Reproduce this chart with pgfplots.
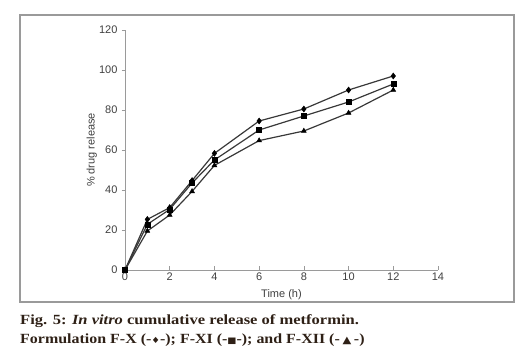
\documentclass[border=0pt]{standalone}
\usepackage{fontspec}
\setmainfont{Liberation Serif}
\newfontfamily\arial{Liberation Sans}
\newfontfamily\dejavu{DejaVu Sans}
\usepackage{pgfplots}
\pgfplotsset{compat=1.18}
\definecolor{capcol}{HTML}{2E2016}
\definecolor{axgray}{HTML}{9A9A9A}
\definecolor{txtgray}{HTML}{404040}
\definecolor{linegray}{HTML}{383838}
\begin{document}
\begin{tikzpicture}[x=1pt,y=1pt]
\useasboundingbox (0,0) rectangle (520,358);
\draw[axgray, line width=1.2pt] (20,56) rectangle (514,343);
\begin{axis}[
  at={(125pt,88pt)}, anchor=south west,
  width=313pt, height=240pt, scale only axis,
  xmin=0, xmax=14, ymin=0, ymax=120,
  axis lines=left, axis line style={axgray, line width=0.8pt, -},
  xtick={0,2,...,14}, ytick={0,20,...,120},
  xtick align=inside, ytick align=outside,
  major tick length=3.5pt,
  tick style={axgray, line width=0.7pt},
  tick label style={font=\arial\fontsize{11}{12}\selectfont, text=txtgray},
  /pgf/number format/assume math mode=true,
  xticklabel style={yshift=1pt},
  yticklabel style={xshift=-0.5pt},
  xlabel={Time (h)}, ylabel={\% drug release},
  every axis x label/.style={at={(axis description cs:0.5,0)}, yshift=-25pt, anchor=center, font=\arial\fontsize{11}{12}\selectfont, text=txtgray},
  every axis y label/.style={at={(axis description cs:-0.106,0.5)}, rotate=90, anchor=center, font=\arial\fontsize{11}{12}\selectfont, text=txtgray},
  clip=false,
]
\addplot[linegray, line width=1.2pt, mark=diamond*, mark size=3pt, mark options={fill=black, draw=black, line width=0.5pt}] coordinates {
(0,0) (1,25.3) (2,31.2) (3,44.7) (4,58.3) (6,74.5) (8,80.5) (10,90) (12,97)};
\addplot[linegray, line width=1.2pt, mark=square*, mark size=2.5pt, mark options={fill=black, draw=black, line width=0.5pt}] coordinates {
(0,0) (1,22.8) (2,30.3) (3,43.5) (4,55) (6,70) (8,77) (10,84) (12,93)};
\addplot[linegray, line width=1.2pt, mark=triangle*, mark size=2.8pt, mark options={fill=black, draw=black, line width=0.5pt}] coordinates {
(0,0) (1,19.5) (2,27.5) (3,39.3) (4,52.3) (6,64.7) (8,69.5) (10,78.5) (12,90)};
\end{axis}
\node[anchor=base west, inner sep=0, text=capcol, font=\fontsize{14}{16}\selectfont\bfseries] at (20,33) {\scalebox{1.18}[1]{Fig. 5: \textit{In vitro} cumulative release of metformin.}};
\node[anchor=base west, inner sep=0, text=capcol, font=\fontsize{14}{16}\selectfont\bfseries] at (20,14) {\scalebox{1.14}[1]{Formulation F-X (-{\dejavu\fontsize{8.5}{10}\selectfont ♦}-); F-XI (-{\dejavu\fontsize{8.5}{10}\selectfont ■}-); and F-XII (-\,{\dejavu\fontsize{10}{10}\selectfont ▲}\,-)}};
\end{tikzpicture}
\end{document}
